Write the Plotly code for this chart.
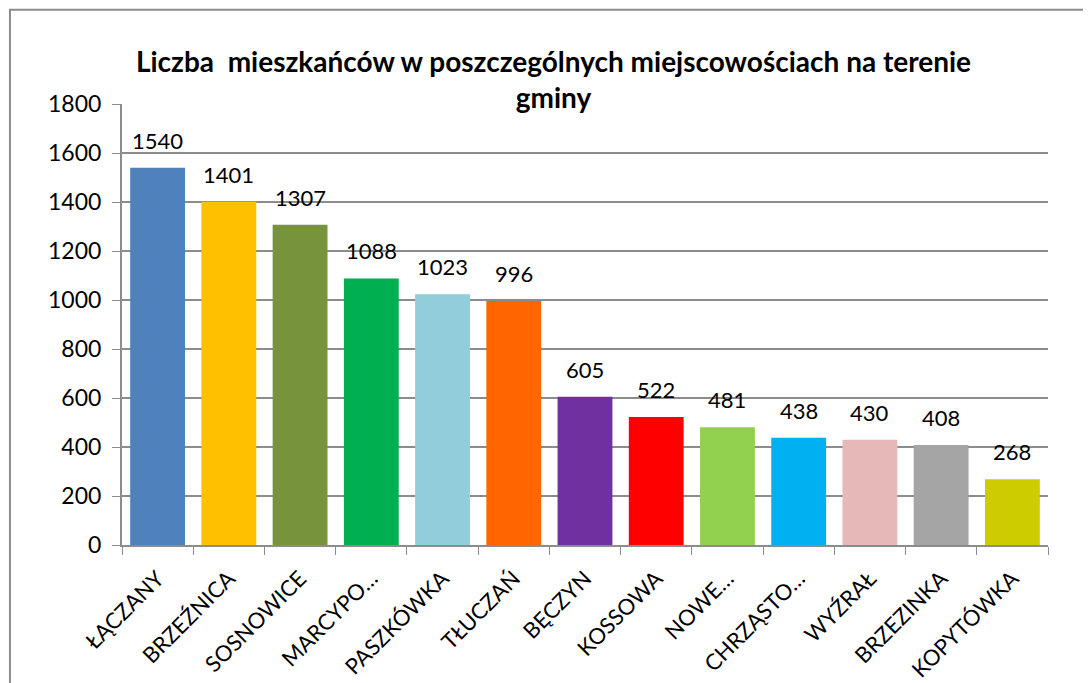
import plotly.graph_objects as go

# dane: liczba mieszkańców w miejscowościach gminy
miejscowosci = ["ŁĄCZANY", "BRZEŹNICA", "SOSNOWICE", "MARCYPO…", "PASZKÓWKA", "TŁUCZAŃ",
                "BĘCZYN", "KOSSOWA", "NOWE…", "CHRZĄSTO…", "WYŹRAŁ", "BRZEZINKA", "KOPYTÓWKA"]
mieszkancy = [1540, 1401, 1307, 1088, 1023, 996, 605, 522, 481, 438, 430, 408, 268]
kolory = ["#4F81BD", "#FFC000", "#77933C", "#00B050", "#92CDDC", "#FF6600", "#7030A0",
          "#FF0000", "#92D050", "#00B0F0", "#E6B9B8", "#A5A5A5", "#CCCC00"]
y_ticks = [0, 200, 400, 600, 800, 1000, 1200, 1400, 1600, 1800]

FONT = "Lato, 'Open Sans', sans-serif"

fig = go.Figure(go.Bar(
    x=miejscowosci,
    y=mieszkancy,
    marker=dict(color=kolory, line_width=0),
    hovertemplate="%{x}: %{y}<extra></extra>",
))

# etykiety wartości nad słupkami (z odstępem jak w oryginale)
for m, v in zip(miejscowosci, mieszkancy):
    fig.add_annotation(
        x=m, y=v, text=str(v), showarrow=False,
        yanchor="bottom", yshift=12,
        font=dict(size=22, color="black", family=FONT),
    )

fig.update_layout(
    width=1091, height=683,
    margin=dict(l=114, r=51, t=96, b=146),
    paper_bgcolor="white", plot_bgcolor="white",
    font=dict(family=FONT, color="black"),
    showlegend=False,
    bargap=0.23,
    title=dict(
        text="<b>Liczba  mieszkańców w poszczególnych miejscowościach na terenie<br>gminy</b>",
        x=0.5, xanchor="center", y=0.907, yanchor="middle",
        font=dict(size=28, family=FONT, color="black"),
    ),
    xaxis=dict(
        tickangle=-45, tickfont=dict(size=22), ticklabelstandoff=10, automargin=False,
        showline=True, linecolor="#8C8C8C", linewidth=2,
        ticks="outside", ticklen=8, tickcolor="#8C8C8C", tickson="boundaries",
        showgrid=False,
    ),
    yaxis=dict(
        range=[0, 1800], tickvals=y_ticks, tickfont=dict(size=23), ticklabelstandoff=6,
        automargin=False,
        showline=True, linecolor="#8C8C8C", linewidth=2,
        ticks="outside", ticklen=8, tickcolor="#8C8C8C",
        showgrid=True, gridcolor="#8C8C8C", gridwidth=2,
        zeroline=False,
    ),
    shapes=[dict(
        type="rect", xref="paper", yref="paper",
        x0=-0.121, x1=1.2, y0=-0.5, y1=1.214,
        line=dict(color="#8C8C8C", width=2), fillcolor="rgba(0,0,0,0)",
        layer="below",
    )],
)

fig.write_html("out.html")
